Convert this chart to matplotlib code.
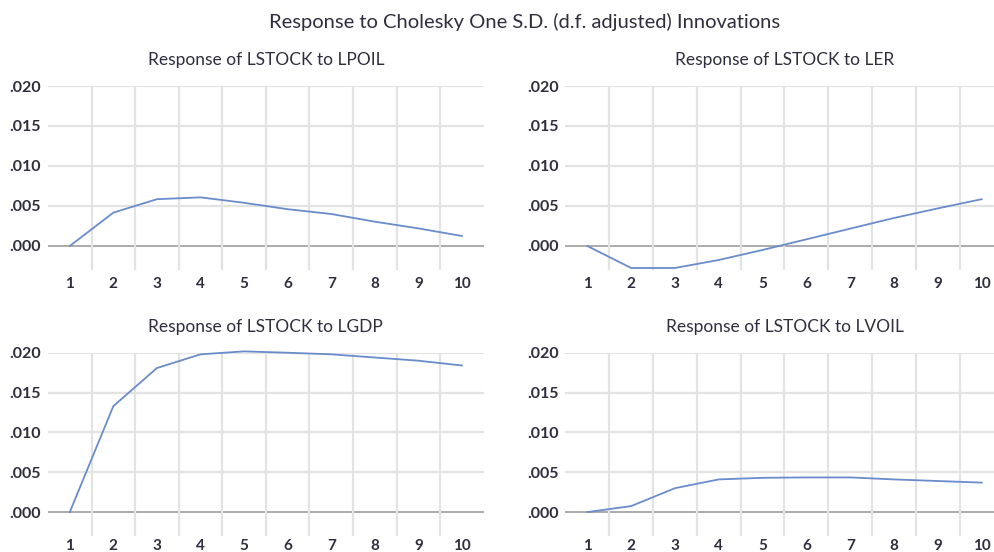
import matplotlib
matplotlib.use("Agg")
import matplotlib.pyplot as plt
import numpy as np

# impulse response values
periods = np.arange(1, 11)
titles = ["Response of LSTOCK to LPOIL", "Response of LSTOCK to LER",
          "Response of LSTOCK to LGDP", "Response of LSTOCK to LVOIL"]
lpoil = [0.0, 0.00417, 0.00585, 0.00608, 0.0054, 0.0046, 0.0040, 0.00304, 0.0022, 0.00125]
ler = [0.0, -0.00275, -0.00275, -0.00175, -0.0005, 0.00083, 0.00217, 0.0035, 0.0047, 0.00585]
lgdp = [0.0, 0.0133, 0.01808, 0.0198, 0.02017, 0.0200, 0.0198, 0.0194, 0.0190, 0.0184]
lvoil = [0.0, 0.00075, 0.0030, 0.0041, 0.0043, 0.00435, 0.00435, 0.0041, 0.0039, 0.0037]
series = [lpoil, ler, lgdp, lvoil]
yticks = [0.0, 0.005, 0.010, 0.015, 0.020]
ytick_labels = [".000", ".005", ".010", ".015", ".020"]

font = "Lato"
text_color = "#2e2e3e"
line_color = "#6a8ccb"
grid_color = "#e3e3e3"

fig = plt.figure(figsize=(9.94, 5.52), dpi=100)

# axes rectangles in figure fractions (left, bottom, width, height)
rects = [
    (0.0483, 0.5109, 0.4383, 0.3333),
    (0.5688, 0.5109, 0.4408, 0.3333),
    (0.0483, 0.0290, 0.4383, 0.3320),
    (0.5688, 0.0290, 0.4408, 0.3320),
]

for i, (rect, title, vals) in enumerate(zip(rects, titles, series)):
    ax = fig.add_axes(rect)
    ax.set_xlim(0.5, 10.5)
    ax.set_ylim(-0.003, 0.020)
    for s in ax.spines.values():
        s.set_visible(False)

    # grid
    for y in yticks[1:]:
        ax.axhline(y, color=grid_color, lw=1.6, zorder=1)
    ax.axhline(0.0, color="#ababab", lw=1.4, zorder=1)
    ax.vlines(np.arange(1.5, 10.5, 1.0), -0.003, 0.020, color=grid_color, lw=1.6, zorder=1)

    ax.plot(periods, vals, color=line_color, lw=1.3, zorder=3, clip_on=False)

    ax.set_xticks(periods)
    ax.set_xticklabels([str(p) for p in periods], family=font, fontsize=11,
                       color=text_color, fontweight="bold")
    ax.set_yticks(yticks)
    ax.set_yticklabels(ytick_labels, family=font, fontsize=11.5,
                       color=text_color, fontweight="bold")
    ax.tick_params(length=0, pad=5)
    ax.tick_params(axis="x", pad=5 if i < 2 else 2)

    ax.set_title(title, family=font, fontsize=12.5, color=text_color, pad=15)

fig.text(0.528, 0.960, "Response to Cholesky One S.D. (d.f. adjusted) Innovations",
         family=font, fontsize=14.5, color=text_color, ha="center", va="center")

fig.savefig("out.png", dpi=100)
